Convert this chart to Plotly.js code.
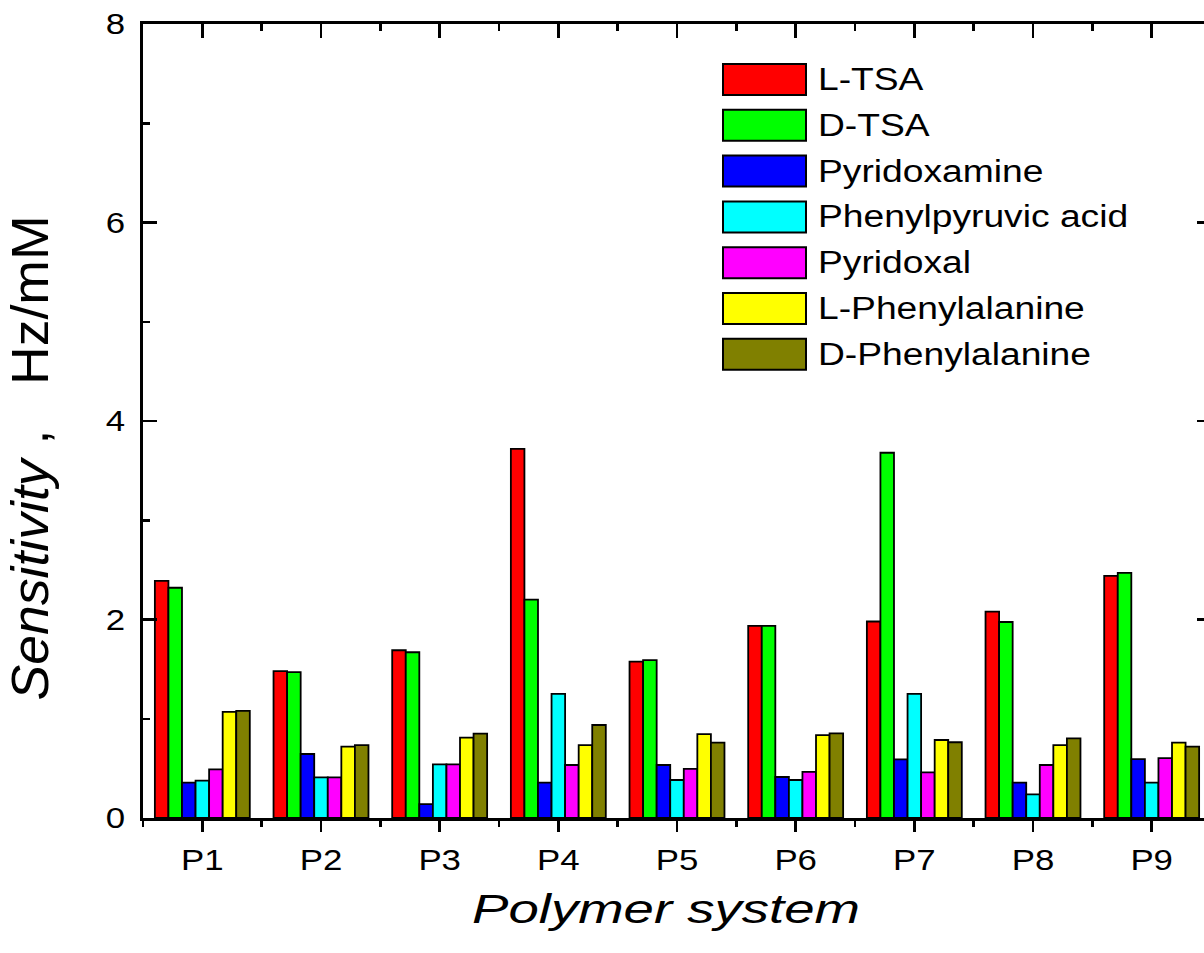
<!DOCTYPE html>
<html>
<head>
<meta charset="utf-8">
<script src="https://cdn.plot.ly/plotly-3.0.1.min.js"></script>
<style>html,body{margin:0;padding:0;overflow:hidden;background:#fff}</style>
</head>
<body>
<div id="chart" style="width:1220px;height:953px"></div>
<script>
// ---- data ----
const categories = ['P1','P2','P3','P4','P5','P6','P7','P8','P9'];
const seriesNames = ['L-TSA','D-TSA','Pyridoxamine','Phenylpyruvic acid','Pyridoxal','L-Phenylalanine','D-Phenylalanine'];
const lTSA          = [2.39, 1.48, 1.69, 3.72, 1.575, 1.935, 1.98, 2.08, 2.44];
const dTSA          = [2.32, 1.47, 1.67, 2.20, 1.59, 1.935, 3.68, 1.975, 2.47];
const pyridoxamine  = [0.356, 0.645, 0.14, 0.356, 0.534, 0.413, 0.59, 0.356, 0.594];
const phenylpyruvic = [0.376, 0.41, 0.54, 1.25, 0.383, 0.383, 1.25, 0.239, 0.356];
const pyridoxal     = [0.49, 0.41, 0.54, 0.534, 0.494, 0.464, 0.46, 0.534, 0.604];
const lPhe          = [1.07, 0.72, 0.81, 0.735, 0.846, 0.836, 0.786, 0.735, 0.76];
const dPhe          = [1.08, 0.735, 0.85, 0.937, 0.76, 0.853, 0.763, 0.803, 0.72];
const seriesValues = [lTSA, dTSA, pyridoxamine, phenylpyruvic, pyridoxal, lPhe, dPhe];
const colors = ['#FF0000','#00FF00','#0000FF','#00FFFF','#FF00FF','#FFFF00','#808000'];
const yTickVals = [0, 2, 4, 6, 8];

// ---- chart ----
const FONT = 'Liberation Sans, Arial, sans-serif';
const xs = categories.map((c, i) => i + 1);

const traces = seriesNames.map((name, k) => ({
  type: 'bar', name: name, x: xs, y: seriesValues[k],
  marker: {color: colors[k], line: {color: '#000', width: 1.8}},
  showlegend: false, hoverinfo: 'x+y+name'
}));
traces.push({type: 'scatter', x: [], y: [], xaxis: 'x2', yaxis: 'y', showlegend: false, hoverinfo: 'skip'});

// custom legend geometry (pixels of figure)
const M = {l: 143, r: 9, t: 24, b: 135};
const W = 1220, H = 953;
const plotW = W - M.l - M.r, plotH = H - M.t - M.b;
const px2x = p => (p - M.l) / plotW;
const py2y = p => (H - M.b - p) / plotH;
const legTop = 64, legStep = 45.8, boxH = 31, boxX0 = 723, boxX1 = 806, textX = 816;

const shapes = [], annotations = [];
seriesNames.forEach((name, k) => {
  const top = legTop + k * legStep;
  shapes.push({type: 'rect', xref: 'paper', yref: 'paper',
    x0: px2x(boxX0), x1: px2x(boxX1), y0: py2y(top + boxH), y1: py2y(top),
    fillcolor: colors[k], line: {color: '#000', width: 2}});
  annotations.push({xref: 'paper', yref: 'paper', x: px2x(textX), y: py2y(top + boxH / 2),
    xanchor: 'left', yanchor: 'middle', align: 'left', showarrow: false, text: name,
    font: {family: FONT, size: 31, color: '#000'}});
});

const axCommon = {showline: true, linecolor: '#000', linewidth: 3, showgrid: false, zeroline: false,
  tickcolor: '#000', tickwidth: 2.5};

const layout = {
  width: W, height: H, margin: M,
  paper_bgcolor: '#fff', plot_bgcolor: '#fff',
  font: {family: FONT, color: '#000'},
  showlegend: false, barmode: 'group', bargap: 0.2, bargroupgap: 0,
  xaxis: Object.assign({}, axCommon, {
    range: [0.5, 9.5], tickmode: 'array', tickvals: xs, ticktext: categories,
    ticks: 'outside', ticklen: 11, mirror: false,
    tickfont: {family: FONT, size: 29, color: '#000'}, ticklabelstandoff: 3,
    minor: {tickmode: 'linear', tick0: 0.5, dtick: 1, ticks: 'outside', ticklen: 6, tickwidth: 2.5, tickcolor: '#000', showgrid: false},
    title: {text: '<i>Polymer system</i>', font: {family: FONT, size: 41, color: '#000'}, standoff: 20}
  }),
  xaxis2: Object.assign({}, axCommon, {
    overlaying: 'x', side: 'top', anchor: 'y',
    range: [0.5, 9.5], tickmode: 'array', tickvals: xs, ticktext: categories,
    showticklabels: false, ticks: 'inside', ticklen: 14,
    minor: {tickmode: 'linear', tick0: 0.5, dtick: 1, ticks: 'inside', ticklen: 7, tickwidth: 2.5, tickcolor: '#000', showgrid: false}
  }),
  yaxis: Object.assign({}, axCommon, {
    range: [0, 8], tickmode: 'array', tickvals: yTickVals,
    ticks: 'inside', ticklen: 14, mirror: 'ticks',
    tickfont: {family: FONT, size: 29, color: '#000'}, ticklabelstandoff: 9,
    minor: {tickmode: 'linear', tick0: 0, dtick: 1, ticks: 'inside', ticklen: 7, tickwidth: 2.5, tickcolor: '#000', showgrid: false},
    title: {text: '<i>Sensitivity</i>\u00a0,\u00a0\u00a0\u00a0Hz/mM', font: {family: FONT, size: 52, color: '#000'}, standoff: 20}
  }),
  shapes: shapes, annotations: annotations
};

function widen(selector, f) {
  document.querySelectorAll(selector).forEach(t => {
    const L = t.getComputedTextLength();
    if (L > 0) { t.setAttribute('textLength', (L * f).toFixed(2)); t.setAttribute('lengthAdjust', 'spacingAndGlyphs'); }
  });
}
function shift(selector, dx, dy) {
  document.querySelectorAll(selector).forEach(t => {
    const tr = t.getAttribute('transform') || '';
    t.setAttribute('transform', (tr + ' translate(' + dx + ',' + dy + ')').trim());
  });
}

Plotly.newPlot('chart', traces, layout, {displayModeBar: false, staticPlot: true}).then(() => {
  widen('.xtick text', 1.2);
  widen('.ytick text', 1.2);
  widen('text.annotation-text', 1.2);
  widen('text.xtitle', 1.33);
  widen('text.ytitle', 1.03);
  shift('text.ytitle', -37, -24);   // local frame of rotated title: down 37px, left 24px on screen
  shift('text.xtitle', -11, 0);
});
</script>
</body>
</html>
